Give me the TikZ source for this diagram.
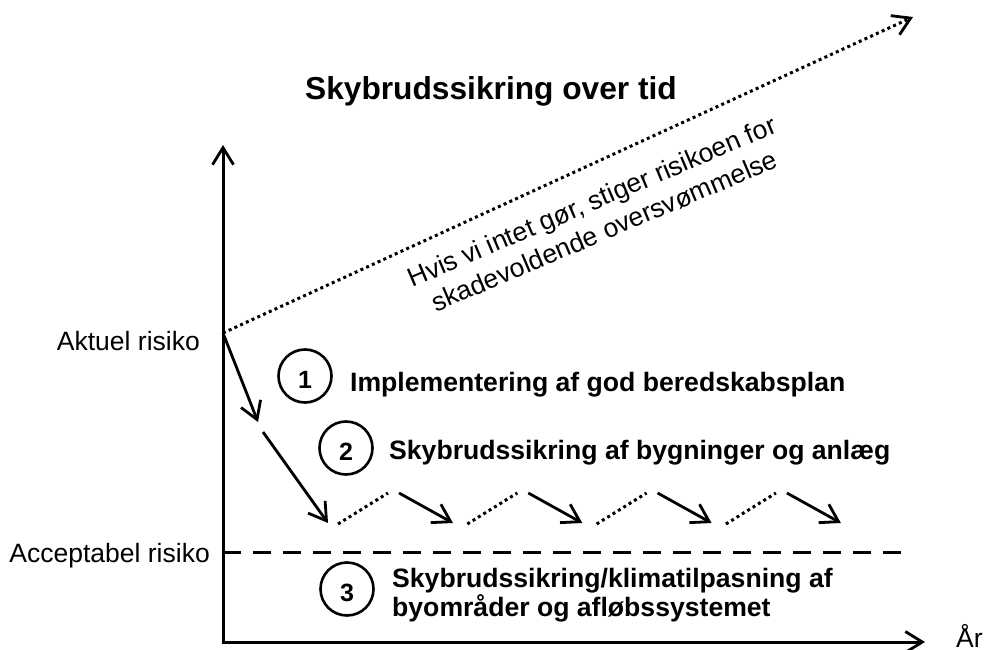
\documentclass[tikz,border=0pt]{standalone}
\usepackage{fontspec}
\setmainfont{Liberation Sans}
\usetikzlibrary{arrows.meta}
\begin{document}
\begin{tikzpicture}[x=1pt,y=-1pt,
  barb/.tip={Straight Barb[length=17pt,width=21pt,line width=2.8pt]},
  axisline/.style={line width=3pt,-barb},
  steparrow/.style={line width=2.8pt,-barb},
  dotline/.style={line width=3pt,dash pattern=on 3pt off 3.3pt},
  dashline/.style={line width=3pt,dash pattern=on 18pt off 12pt},
  lbl/.style={inner sep=0pt,font=\fontsize{26.5}{30}\selectfont},
  boldlbl/.style={inner sep=0pt,font=\fontsize{26.6}{30}\selectfont\bfseries},
  numcircle/.style={circle,draw,line width=2.6pt,minimum size=53pt,inner sep=0pt,
    text height=25pt,text depth=0pt,
    font=\fontsize{25}{28}\selectfont\bfseries}
]
\useasboundingbox (0,0) rectangle (985,650);
\fill[white] (0,0) rectangle (985,650);

% title
\node[inner sep=0pt,font=\fontsize{31.7}{36}\selectfont\bfseries] (title) at (491,91) {Skybrudssikring over tid};

% axes
\coordinate (origin) at (223,642);
\coordinate (ytop) at (223,145);
\coordinate (xend) at (925,642);
\coordinate (risk) at (223,333);
\draw[axisline] (origin) -- (ytop);
\draw[axisline] ([xshift=-1.5pt]origin) -- (xend);
\node[lbl,anchor=base west] (aar) at (956,647) {År};

% axis labels
\node[lbl,anchor=base east] (aktuel) at (200,350) {Aktuel risiko};
\node[lbl,anchor=base east] (accept) at (210,562) {Acceptabel risiko};

% dotted trend
\coordinate (trend) at (913,17);
\draw[dotline,-barb] (risk) -- (trend);
\node[lbl,rotate=23,align=center,font=\fontsize{26.5}{32}\selectfont] (trendtxt) at (598,216)
  {Hvis vi intet gør, stiger risikoen for\\skadevoldende oversvømmelse};

% acceptable level
\coordinate (accL) at (223,552);
\coordinate (accR) at (910,552);
\draw[dashline] (accL) -- (accR);

% first steps
\coordinate (a1) at (258,422);
\coordinate (b0) at (263,432);
\coordinate (b1) at (328,523);
\draw[steparrow] (risk) -- (a1);
\draw[steparrow] (b0) -- (b1);

% saw-tooth
\foreach \i/\dx in {1/0,2/129.3,3/258.6,4/387.9}{
  \coordinate (d\i s) at (338+\dx,524);
  \coordinate (d\i e) at (388+\dx,493);
  \coordinate (s\i s) at (399+\dx,493);
  \coordinate (s\i e) at (453+\dx,523);
  \draw[dotline] (d\i s) -- (d\i e);
  \draw[steparrow] (s\i s) -- (s\i e);
}

% numbered measures
\node[numcircle] (c1) at (305,376) {1};
\node[boldlbl,anchor=base west] (t1) at (350,391) {Implementering af god beredskabsplan};
\node[numcircle] (c2) at (346,448) {2};
\node[boldlbl,anchor=base west] (t2) at (389,459) {Skybrudssikring af bygninger og anlæg};
\node[numcircle] (c3) at (347,589) {3};
\node[boldlbl,anchor=base west] (t3a) at (392,587) {Skybrudssikring/klimatilpasning af};
\node[boldlbl,anchor=base west] (t3b) at (392,616) {byområder og afløbssystemet};
\end{tikzpicture}
\end{document}
